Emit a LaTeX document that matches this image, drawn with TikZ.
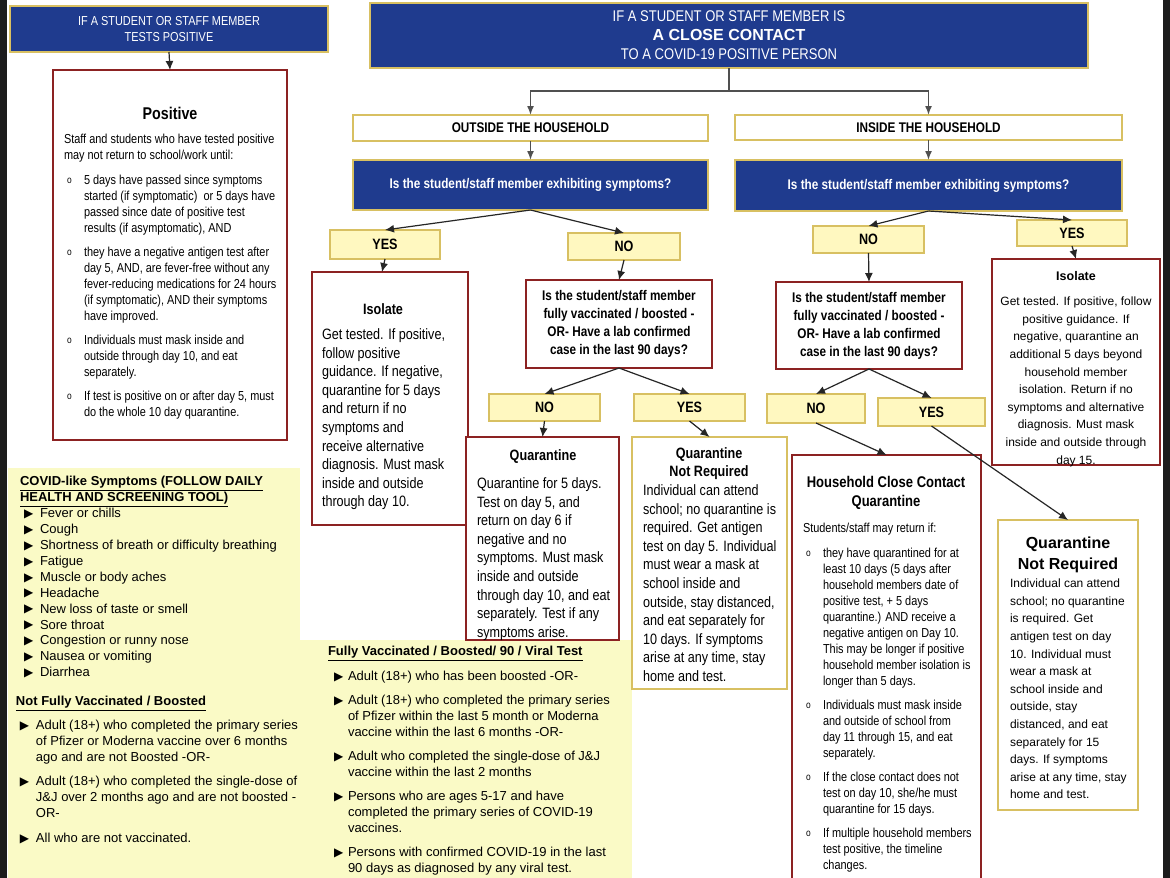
\documentclass[tikz,border=0pt]{standalone}
\usepackage{fontspec}
\setmainfont{Liberation Sans}
\newfontfamily\nar[FakeStretch=0.84]{Liberation Sans}
\newfontfamily\dv{DejaVu Sans}
\usetikzlibrary{arrows.meta,calc}
\definecolor{navy}{HTML}{1F3B8E}
\definecolor{gold}{HTML}{D8C062}
\definecolor{maroon}{HTML}{8C2222}
\definecolor{ynfill}{HTML}{FFF8C0}
\definecolor{panel}{HTML}{FAFAC6}
\definecolor{strip}{HTML}{1C1C1C}
\definecolor{conn}{HTML}{505050}
\newcommand\ob{\makebox[17pt][l]{\raisebox{1pt}{\fontsize{10}{10}\selectfont o}}}
\newcommand\tri[1]{\makebox[#1pt][l]{\raisebox{0.3pt}{\dv\fontsize{12}{12}\selectfont ▶}}}
\newcommand\hg[1]{\hspace*{#1pt}}
\tikzset{
 boxbase/.style={inner sep=0pt, outer sep=0pt, anchor=north west},
 bluebox/.style={boxbase, draw=gold, line width=1.6pt, fill=navy, text=white, align=center},
 wbox/.style={boxbase, draw=gold, line width=1.6pt, fill=white, align=center},
 ynbox/.style={boxbase, draw=gold, line width=1.6pt, fill=ynfill, font=\nar\bfseries\fontsize{15}{17}\selectfont},
 redbox/.style={boxbase, draw=maroon, line width=1.8pt, fill=white, align=center},
 txt/.style={inner sep=0pt, outer sep=0pt, anchor=north west, align=left},
 ctxt/.style={inner sep=0pt, outer sep=0pt, align=center},
 arr/.style={-{Latex[length=9pt,width=8pt]}, line width=1.2pt, black!85},
 garr/.style={-{Latex[length=9pt,width=7pt]}, line width=1.5pt, conn},
 narrow13/.style={font=\nar\fontsize{13}{16}\selectfont},
 narrow15/.style={font=\nar\fontsize{15}{18.6}\selectfont},
 panelfont/.style={font=\fontsize{13}{15.9}\selectfont},
}
\begin{document}
\begin{tikzpicture}[x=1pt,y=-1pt]
\useasboundingbox (0,0) rectangle (1170,878);
\fill[white] (0,0) rectangle (1170,878);
% dark edges
\fill[strip] (0,0) rectangle (7,878);
\fill[strip] (1163,0) rectangle (1170,878);
% yellow panels
\fill[panel] (8,468) rectangle (300,878);
\fill[panel] (300,640) rectangle (632,878);

% ---------- left column: tests positive ----------
\node[bluebox, minimum width=318, minimum height=46, font=\nar\fontsize{13}{16}\selectfont] (tp) at (10,6) {IF A STUDENT OR STAFF MEMBER\\TESTS POSITIVE};
\node[redbox, minimum width=234, minimum height=370] (pos) at (53,70) {};
\draw[arr] (tp.south) -- (pos.north);
\node[ctxt, font=\nar\bfseries\fontsize{17}{20}\selectfont] (posT) at (170,113) {Positive};
\node[txt, narrow13] (posB) at (64,134.5) {Staff and students who have tested positive\\
may not return to school/work until:\\[9pt]
\hg{3}\ob 5 days have passed since symptoms\\
\hg{20}started (if symptomatic)\ \ or 5 days have\\
\hg{20}passed since date of positive test\\
\hg{20}results (if asymptomatic), AND\\[8pt]
\hg{3}\ob they have a negative antigen test after\\
\hg{20}day 5, AND, are fever-free without any\\
\hg{20}fever-reducing medications for 24 hours\\
\hg{20}(if symptomatic), AND their symptoms\\
\hg{20}have improved.\\[8pt]
\hg{3}\ob Individuals must mask inside and\\
\hg{20}outside through day 10, and eat\\
\hg{20}separately.\\[8pt]
\hg{3}\ob If test is positive on or after day 5, must\\
\hg{20}do the whole 10 day quarantine.};

% ---------- close contact header ----------
\node[bluebox, minimum width=718, minimum height=65, font=\nar\fontsize{15.5}{19}\selectfont] (cc) at (370,3) {IF A STUDENT OR STAFF MEMBER IS\\{\normalfont\bfseries\fontsize{16}{19}\selectfont A CLOSE CONTACT}\\TO A COVID-19 POSITIVE PERSON};
\node[wbox, minimum width=355, minimum height=26, font=\nar\bfseries\fontsize{14}{16}\selectfont] (oh) at (353,115) {OUTSIDE THE HOUSEHOLD};
\node[wbox, minimum width=387, minimum height=25, font=\nar\bfseries\fontsize{14}{16}\selectfont] (ih) at (735,115) {INSIDE THE HOUSEHOLD};
\coordinate (jn) at (729,91);
\draw[conn, line width=1.5pt] (cc.south) -- (cc.south |- jn);
\draw[garr] (cc.south |- jn) -| (oh.north);
\draw[garr] (cc.south |- jn) -| (ih.north);
\node[bluebox, minimum width=355, minimum height=50, font=\nar\bfseries\fontsize{14}{16}\selectfont] (sq1) at (353,160) {Is the student/staff member exhibiting symptoms?};
\node[bluebox, minimum width=387, minimum height=51, font=\nar\bfseries\fontsize{14}{16}\selectfont] (sq2) at (735,160) {Is the student/staff member exhibiting symptoms?};
\draw[garr] (oh.south) -- (sq1.north);
\draw[garr] (ih.south) -- (sq2.north);

% ---------- outside branch ----------
\node[ynbox, minimum width=110, minimum height=29] (y1) at (330,230) {YES};
\node[ynbox, minimum width=112, minimum height=27] (n1) at (568,233) {NO};
\draw[arr] (sq1.south) -- (y1.north);
\draw[arr] (sq1.south) -- (n1.north);

\node[redbox, minimum width=156, minimum height=253] (iso1) at (312,272) {};
\draw[arr] (y1.south) -- ([xshift=-8pt]iso1.north);
\node[ctxt, font=\nar\bfseries\fontsize{15}{18}\selectfont] (iso1T) at (383,309) {Isolate};
\node[txt, narrow15] (iso1B) at (322,328.7) {Get tested. If positive,\\follow positive\\guidance. If negative,\\quarantine for 5 days\\and return if no\\symptoms and\\receive alternative\\diagnosis. Must mask\\inside and outside\\through day 10.};

\node[redbox, minimum width=186, minimum height=88, font=\nar\bfseries\fontsize{14}{18}\selectfont] (q1) at (526,280) {Is the student/staff member\\fully vaccinated / boosted -\\OR- Have a lab confirmed\\case in the last 90 days?};
\draw[arr] (n1.south) -- (q1.north);
\node[ynbox, minimum width=111, minimum height=27] (n3) at (489,394) {NO};
\node[ynbox, minimum width=111, minimum height=27] (y3) at (634,394) {YES};
\draw[arr] (q1.south) -- (n3.north);
\draw[arr] (q1.south) -- (y3.north);

\node[redbox, minimum width=153, minimum height=203] (qu) at (466,437) {};
\draw[arr] (n3.south) -- (qu.north);
\node[ctxt, font=\nar\bfseries\fontsize{15}{18}\selectfont] (quT) at (543,457) {Quarantine};
\node[txt, narrow15] (quB) at (477,477.7) {Quarantine for 5 days.\\Test on day 5, and\\return on day 6 if\\negative and no\\symptoms. Must mask\\inside and outside\\through day 10, and eat\\separately. Test if any\\symptoms arise.};

\node[wbox, minimum width=155, minimum height=252] (nr1) at (632,437) {};
\draw[arr] (y3.south) -- (nr1.north);
\node[ctxt, font=\nar\bfseries\fontsize{15}{18}\selectfont] (nr1T) at (709,464) {Quarantine\\Not Required};
\node[txt, narrow15] (nr1B) at (643,484.7) {Individual can attend\\school; no quarantine is\\required. Get antigen\\test on day 5. Individual\\must wear a mask at\\school inside and\\outside, stay distanced,\\and eat separately for\\10 days. If symptoms\\arise at any time, stay\\home and test.};

% ---------- inside branch ----------
\node[ynbox, minimum width=111, minimum height=27] (n2) at (813,226) {NO};
\node[ynbox, minimum width=110, minimum height=26] (y2) at (1017,220) {YES};
\draw[arr] (sq2.south) -- (n2.north);
\draw[arr] (sq2.south) -- (y2.north);

\node[redbox, minimum width=186, minimum height=87, font=\nar\bfseries\fontsize{14}{18}\selectfont] (q2) at (776,282) {Is the student/staff member\\fully vaccinated / boosted -\\OR- Have a lab confirmed\\case in the last 90 days?};
\draw[arr] (n2.south) -- (q2.north);
\node[ynbox, minimum width=98, minimum height=29] (n4) at (767,394) {NO};
\node[ynbox, minimum width=107, minimum height=28] (y4) at (878,398) {YES};
\draw[arr] (q2.south) -- (n4.north);
\draw[arr] (q2.south) -- (y4.north);

\node[redbox, minimum width=189, minimum height=435] (hh) at (792,455) {};
\node[ctxt, font=\nar\bfseries\fontsize{15.5}{19}\selectfont] (hhT) at (886,493) {Household Close Contact\\Quarantine};
\node[txt, narrow13] (hhB) at (803,523.5) {Students/staff may return if:\\[9pt]
\hg{3}\ob they have quarantined for at\\
\hg{20}least 10 days (5 days after\\
\hg{20}household members date of\\
\hg{20}positive test, + 5 days\\
\hg{20}quarantine.) AND receive a\\
\hg{20}negative antigen on Day 10.\\
\hg{20}This may be longer if positive\\
\hg{20}household member isolation is\\
\hg{20}longer than 5 days.\\[8pt]
\hg{3}\ob Individuals must mask inside\\
\hg{20}and outside of school from\\
\hg{20}day 11 through 15, and eat\\
\hg{20}separately.\\[8pt]
\hg{3}\ob If the close contact does not\\
\hg{20}test on day 10, she/he must\\
\hg{20}quarantine for 15 days.\\[8pt]
\hg{3}\ob If multiple household members\\
\hg{20}test positive, the timeline\\
\hg{20}changes.};
\draw[arr] (n4.south) -- (hh.north);

\node[redbox, minimum width=168, minimum height=206] (iso2) at (992,259) {};
\draw[arr] (y2.south) -- (iso2.north);
\node[ctxt, font=\bfseries\fontsize{12.5}{15}\selectfont] (iso2T) at (1076,276) {Isolate};
\node[ctxt, anchor=north, font=\fontsize{12}{17.6}\selectfont] (iso2B) at (1076,297) {Get tested. If positive, follow\\positive guidance. If\\negative, quarantine an\\additional 5 days beyond\\household member\\isolation. Return if no\\symptoms and alternative\\diagnosis. Must mask\\inside and outside through\\day 15.};

\node[wbox, minimum width=140, minimum height=290] (nr2) at (998,520) {};
\draw[arr] (y4.south) -- (nr2.north);
\node[ctxt, font=\bfseries\fontsize{16}{21}\selectfont] (nr2T) at (1068,554.5) {Quarantine\\Not Required};
\node[txt, font=\fontsize{12}{17.6}\selectfont] (nr2B) at (1010,579) {Individual can attend\\school; no quarantine\\is required. Get\\antigen test on day\\10. Individual must\\wear a mask at\\school inside and\\outside, stay\\distanced, and eat\\separately for 15\\days. If symptoms\\arise at any time, stay\\home and test.};

% ---------- yellow panel texts ----------
\node[txt, panelfont] (sym) at (20,476.5) {{\bfseries\underline{COVID-like Symptoms (FOLLOW DAILY}}\\
{\bfseries\underline{HEALTH AND SCREENING TOOL)}}\\
\hg{4}\tri{16}Fever or chills\\
\hg{4}\tri{16}Cough\\
\hg{4}\tri{16}Shortness of breath or difficulty breathing\\
\hg{4}\tri{16}Fatigue\\
\hg{4}\tri{16}Muscle or body aches\\
\hg{4}\tri{16}Headache\\
\hg{4}\tri{16}New loss of taste or smell\\
\hg{4}\tri{16}Sore throat\\
\hg{4}\tri{16}Congestion or runny nose\\
\hg{4}\tri{16}Nausea or vomiting\\
\hg{4}\tri{16}Diarrhea};

\node[txt, font=\fontsize{13}{16}\selectfont] (nfv) at (16,696.5) {{\bfseries\underline{Not Fully Vaccinated / Boosted}}\\[8pt]
\hg{4}\tri{16}Adult (18+) who completed the primary series\\
\hg{20}of Pfizer or Moderna vaccine over 6 months\\
\hg{20}ago and are not Boosted -OR-\\[8pt]
\hg{4}\tri{16}Adult (18+) who completed the single-dose of\\
\hg{20}J\&J over 2 months ago and are not boosted -\\
\hg{20}OR-\\[9pt]
\hg{4}\tri{16}All who are not vaccinated.};

\node[txt, font=\fontsize{13}{16}\selectfont] (fv) at (328,646.5) {{\bfseries\underline{Fully Vaccinated / Boosted/ 90 / Viral Test}}\\[9pt]
\hg{6}\tri{14}Adult (18+) who has been boosted -OR-\\[8pt]
\hg{6}\tri{14}Adult (18+) who completed the primary series\\
\hg{20}of Pfizer within the last 5 month or Moderna\\
\hg{20}vaccine within the last 6 months -OR-\\[8pt]
\hg{6}\tri{14}Adult who completed the single-dose of J\&J\\
\hg{20}vaccine within the last 2 months\\[8pt]
\hg{6}\tri{14}Persons who are ages 5-17 and have\\
\hg{20}completed the primary series of COVID-19\\
\hg{20}vaccines.\\[8pt]
\hg{6}\tri{14}Persons with confirmed COVID-19 in the last\\
\hg{20}90 days as diagnosed by any viral test.};
\end{tikzpicture}
\end{document}
